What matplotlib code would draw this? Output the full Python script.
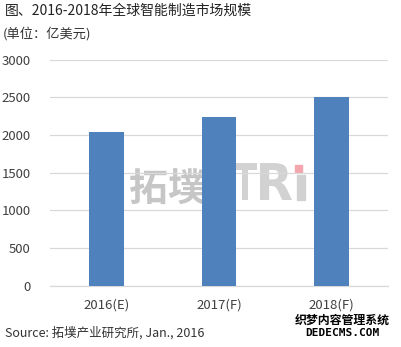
import matplotlib
matplotlib.use("Agg")
import matplotlib.pyplot as plt
from matplotlib.patches import Rectangle, PathPatch
from matplotlib.textpath import TextPath
from matplotlib.font_manager import FontProperties
from matplotlib.transforms import Affine2D

plt.rcParams['font.family'] = ['Noto Sans CJK SC', 'DejaVu Sans']

categories = ["2016(E)", "2017(F)", "2018(F)"]
values = [2040, 2240, 2500]
yticks = [0, 500, 1000, 1500, 2000, 2500, 3000]

W, H = 401, 347
fig = plt.figure(figsize=(W / 100, H / 100), dpi=100)
fig.patch.set_facecolor("white")

ax = fig.add_axes([50 / W, (H - 285.8) / H, (388 - 50) / W, (285.8 - 59.6) / H])
ax.set_facecolor("none")
ax.bar(range(len(categories)), values, width=0.31, color="#4F81BD", zorder=3)
ax.set_xlim(-0.5, len(categories) - 0.5)
ax.set_ylim(0, 3000)
ax.set_yticks(yticks)
ax.set_yticklabels([str(t) for t in yticks])
ax.set_xticks(range(len(categories)))
ax.set_xticklabels(categories)
ax.yaxis.grid(True, color="#D9D9D9", linewidth=0.9, zorder=0)
for s in ["top", "right", "left"]:
    ax.spines[s].set_visible(False)
ax.spines["bottom"].set_color("#D9D9D9")
ax.spines["bottom"].set_linewidth(0.9)
ax.tick_params(axis="both", length=0, labelsize=9.5, colors="#404040")
ax.tick_params(axis="y", pad=14)
ax.tick_params(axis="x", pad=9)

# watermark (behind the chart)
fig.text(129 / W, (H - 202) / H, "拓墣", fontsize=28, color="#C6C6C6",
         fontweight="bold", ha="left", va="baseline", zorder=-2)


def pixel_text(s, x0, x1, ytop, ybot, color, z):
    tp = TextPath((0, 0), s, size=40, prop=FontProperties(family="DejaVu Sans", weight="bold"))
    ext = tp.get_extents()
    sx = (x1 - x0) / ext.width
    sy = (ybot - ytop) / ext.height
    tr = Affine2D().translate(-ext.x0, -ext.y0).scale(sx, sy).translate(x0, H - ybot)
    fig.patches.append(PathPatch(tp, transform=tr, facecolor=color, edgecolor="none",
                                 zorder=z))


pixel_text("T", 233, 257, 163, 200, "#D2D2D2", -2)
pixel_text("R", 260, 292, 163, 200, "#D2D2D2", -2)
fig.patches.append(Rectangle((297, H - 200), 8, 25, transform=Affine2D(),
                             color="#D2D2D2", zorder=-2))
fig.patches.append(Rectangle((295, H - 172), 7, 7, transform=Affine2D(),
                             color="#F4A6AE", zorder=-2))

fig.text(5 / W, (H - 11) / H, "图、2016-2018年全球智能制造市场规模", fontsize=10,
         color="#222222", ha="left", va="center")
fig.text(3 / W, (H - 34) / H, "(单位：亿美元)", fontsize=9.5, color="#333333",
         ha="left", va="center")
fig.text(5 / W, (H - 333) / H, "Source: 拓墣产业研究所, Jan., 2016", fontsize=9.0,
         color="#333333", ha="left", va="center")

fig.text(342 / W, (H - 320.5) / H, "织梦内容管理系统", fontsize=8.6, color="black",
         fontweight="bold", ha="center", va="center")
fig.text(342 / W, (H - 333) / H, "DEDECMS.COM", fontsize=8, color="black",
         fontweight="bold", fontfamily=["DejaVu Sans Mono"], ha="center", va="center")

fig.savefig("out.png", dpi=100, facecolor="white")
